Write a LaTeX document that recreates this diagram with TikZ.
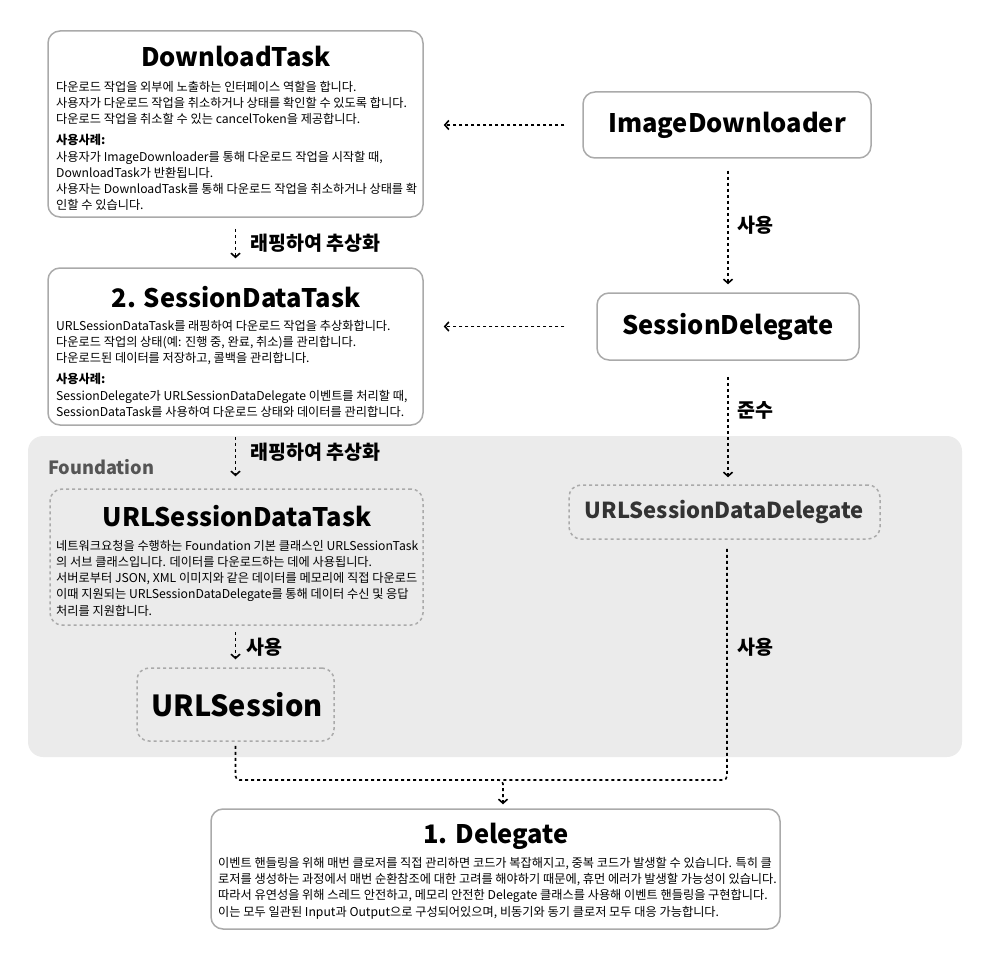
\documentclass[tikz,border=0pt]{standalone}
\usepackage{fontspec}
\setmainfont{Noto Sans CJK KR}
\usetikzlibrary{arrows.meta, calc}

\definecolor{boxline}{HTML}{AAAAAA}
\definecolor{fndfill}{HTML}{EBEBEB}
\definecolor{fndtext}{HTML}{555555}

\tikzset{
    box/.style={draw=boxline, line width=1.5pt, rounded corners=12pt, fill=white},
    fbox/.style={draw=boxline, line width=1.5pt, dash pattern=on 3pt off 3pt, rounded corners=12pt},
    link/.style={line width=1.6pt, dash pattern=on 3pt off 3pt, -{Straight Barb[length=4pt,width=9pt]}},
    title/.style={font=\fontsize{25.5}{30}\selectfont\bfseries},
    body/.style={font=\fontsize{12.2}{16.2}\selectfont, align=left, anchor=north west, inner sep=0pt},
    lbl/.style={font=\fontsize{19.5}{22}\selectfont\bfseries, anchor=west, inner sep=0pt},
}

\begin{document}
\begin{tikzpicture}[x=1pt, y=-1pt]
    \useasboundingbox (0, 0) rectangle (998, 960);

    % Foundation area
    \fill[fndfill, rounded corners=15pt] (28, 436) rectangle (962, 757);
    \node[font=\fontsize{18.2}{21}\selectfont\bfseries, text=fndtext, anchor=west, inner sep=0pt] (fnd) at (48, 467) {Foundation};

    % boxes
    \node[box, minimum width=375pt, minimum height=186pt] (dtask) at (235.5, 124) {};
    \node[box, minimum width=288pt, minimum height=66pt] (imgdl) at (727, 125) {};
    \node[box, minimum width=262pt, minimum height=67pt] (sdel) at (728, 326.5) {};
    \node[box, minimum width=375pt, minimum height=157pt] (sdtask) at (235.5, 346.5) {};
    \node[fbox, minimum width=373pt, minimum height=136pt] (urltask) at (236.5, 557) {};
    \node[fbox, minimum width=311pt, minimum height=54pt] (urldel) at (724.5, 512) {};
    \node[fbox, minimum width=197pt, minimum height=73pt] (urlsess) at (235.5, 704.5) {};
    \node[box, minimum width=569pt, minimum height=120pt] (dlg) at (495.5, 869) {};

    % titles
    \node[title] at (236, 56) {DownloadTask};
    \node[title] at (727, 125) {ImageDownloader};
    \node[title] at (236, 297) {2. SessionDataTask};
    \node[title] at (728, 326.5) {SessionDelegate};
    \node[title] at (237, 516) {URLSessionDataTask};
    \node[font=\fontsize{22}{26}\selectfont\bfseries, text=black!80] at (724.5, 512) {URLSessionDataDelegate};
    \node[font=\fontsize{29}{34}\selectfont\bfseries] at (237, 704.5) {URLSession};
    \node[title] at (496, 836) {1. Delegate};

    % texts
    \node[body] at (56, 81) {다운로드 작업을 외부에 노출하는 인터페이스 역할을 합니다.\\
        사용자가 다운로드 작업을 취소하거나 상태를 확인할 수 있도록 합니다.\\
        다운로드 작업을 취소할 수 있는 cancelToken을 제공합니다.\\[5pt]
        \textbf{사용사례:}\\
        사용자가 ImageDownloader를 통해 다운로드 작업을 시작할 때,\\
        DownloadTask가 반환됩니다.\\
        사용자는 DownloadTask를 통해 다운로드 작업을 취소하거나 상태를 확\\
        인할 수 있습니다.};
    \node[body] at (56, 320) {URLSessionDataTask를 래핑하여 다운로드 작업을 추상화합니다.\\
        다운로드 작업의 상태(예: 진행 중, 완료, 취소)를 관리합니다.\\
        다운로드된 데이터를 저장하고, 콜백을 관리합니다.\\[5pt]
        \textbf{사용사례:}\\
        SessionDelegate가 URLSessionDataDelegate 이벤트를 처리할 때,\\
        SessionDataTask를 사용하여 다운로드 상태와 데이터를 관리합니다.};
    \node[body] at (56, 540) {네트워크요청을 수행하는 Foundation 기본 클래스인 URLSessionTask\\
        의 서브 클래스입니다. 데이터를 다운로드하는 데에 사용됩니다.\\
        서버로부터 JSON, XML 이미지와 같은 데이터를 메모리에 직접 다운로드\\
        이때 지원되는 URLSessionDataDelegate를 통해 데이터 수신 및 응답\\
        처리를 지원합니다.};
    \node[body] at (218, 857) {이벤트 핸들링을 위해 매번 클로저를 직접 관리하면 코드가 복잡해지고, 중복 코드가 발생할 수 있습니다. 특히 클\\
        로저를 생성하는 과정에서 매번 순환참조에 대한 고려를 해야하기 때문에, 휴먼 에러가 발생할 가능성이 있습니다.\\
        따라서 유연성을 위해 스레드 안전하고, 메모리 안전한 Delegate 클래스를 사용해 이벤트 핸들링을 구현합니다.\\
        이는 모두 일관된 Input과 Output으로 구성되어있으며, 비동기와 동기 클로저 모두 대응 가능합니다.};

    % connectors
    \draw[link] ([xshift=-18pt]imgdl.west) -- ([xshift=20pt]dtask.east |- imgdl.west);
    \draw[link] ([yshift=-12pt]sdel.north |- imgdl.south) -- ([yshift=8pt]sdel.north);
    \draw[link] ([xshift=-32pt]sdel.west) -- ([xshift=20pt]sdtask.east |- sdel.west);
    \draw[link] ([yshift=-11pt]dtask.south) -- ([yshift=9pt]sdtask.north);
    \draw[link] ([yshift=-11pt]sdtask.south) -- ([yshift=12pt]urltask.north -| sdtask.south);
    \draw[link] ([yshift=-16pt]sdel.south) -- ([yshift=7pt]urldel.north -| sdel.south);
    \draw[link] ([yshift=-6pt]urltask.south -| urlsess.north) -- ([yshift=8pt]urlsess.north);

    \coordinate (merge) at (503, 780);
    \draw[link, rounded corners=4pt] ([yshift=-4pt]urlsess.south) |- (merge) -- ($(merge |- dlg.north)+(0, -4)$);
    \draw[line width=1.6pt, dash pattern=on 3pt off 3pt, rounded corners=4pt] ([xshift=2.5pt, yshift=-9pt]urldel.south) |- (merge);

    % labels
    \node[lbl] at (737, 225) {사용};
    \node[lbl] at (250, 243) {래핑하여 추상화};
    \node[lbl] at (737, 410) {준수};
    \node[lbl] at (250, 452) {래핑하여 추상화};
    \node[lbl] at (246, 647) {사용};
    \node[lbl] at (737, 647) {사용};
\end{tikzpicture}
\end{document}
